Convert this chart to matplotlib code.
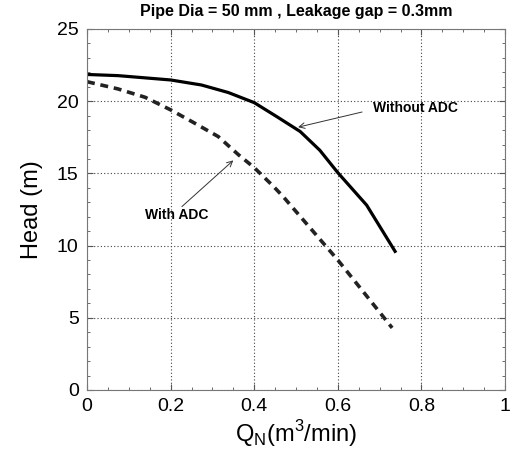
import matplotlib
matplotlib.use("Agg")
import matplotlib.pyplot as plt
from matplotlib.ticker import MultipleLocator

plt.rcParams['font.family'] = ['Liberation Sans', 'DejaVu Sans']

q_without = [0.0, 0.074, 0.2, 0.274, 0.338, 0.4, 0.454, 0.51, 0.557, 0.6, 0.669, 0.737]
h_without = [21.85, 21.77, 21.47, 21.12, 20.6, 19.9, 18.93, 17.9, 16.6, 15.05, 12.8, 9.6]

q_with = [0.0, 0.074, 0.139, 0.2, 0.25, 0.314, 0.362, 0.4, 0.446, 0.469, 0.533, 0.6, 0.661, 0.73]
h_with = [21.35, 20.85, 20.27, 19.4, 18.6, 17.55, 16.3, 15.4, 14.1, 13.4, 11.25, 9.0, 6.8, 4.3]

x_ticks = [0, 0.2, 0.4, 0.6, 0.8, 1]
x_tick_labels = ['0', '0.2', '0.4', '0.6', '0.8', '1']
y_ticks = [0, 5, 10, 15, 20, 25]

fig = plt.figure(figsize=(5.16, 4.55), dpi=100)
ax = fig.add_axes([0.1686, 0.1429, 0.8101, 0.7934])

ax.plot(q_without, h_without, color='black', lw=2.3, solid_joinstyle='round')
ax.plot(q_with, h_with, color='#222222', lw=2.6, linestyle=(0, (2.2, 1.6)),
        dash_joinstyle='round')

ax.set_xlim(0, 1)
ax.set_ylim(0, 25)
ax.set_xticks(x_ticks)
ax.set_xticklabels(x_tick_labels)
ax.set_yticks(y_ticks)
ax.xaxis.set_minor_locator(MultipleLocator(0.05))
ax.yaxis.set_minor_locator(MultipleLocator(1))
ax.tick_params(which='both', direction='in', top=True, right=True, color='#555555')
ax.tick_params(which='major', length=4, labelsize=14, pad=6)
ax.tick_params(which='minor', length=2)
ax.grid(True, which='major', linestyle=(0, (1, 2)), color='#444444', lw=0.8)
for s in ax.spines.values():
    s.set_color('#777777')
    s.set_linewidth(0.8)

ax.set_xlabel(r'Q$_\mathregular{N}$(m$^\mathregular{3}$/min)', fontsize=17, labelpad=2)
ax.set_ylabel('Head (m)', fontsize=17, labelpad=10)
ax.set_title('Pipe Dia = 50 mm , Leakage gap = 0.3mm', fontsize=11.5,
             fontweight='bold', pad=9)

arrow_kw = dict(arrowstyle='->', color='#333333', lw=0.7, shrinkA=0, shrinkB=0)
ax.annotate('', xy=(0.505, 18.2), xytext=(0.658, 19.25), arrowprops=arrow_kw)
ax.text(0.785, 19.5, 'Without ADC', fontsize=10, fontweight='bold',
        ha='center', va='center')
ax.annotate('', xy=(0.35, 15.9), xytext=(0.227, 12.7), arrowprops=arrow_kw)
ax.text(0.215, 12.1, 'With ADC', fontsize=10, fontweight='bold',
        ha='center', va='center')

fig.savefig('out.png', dpi=100)
